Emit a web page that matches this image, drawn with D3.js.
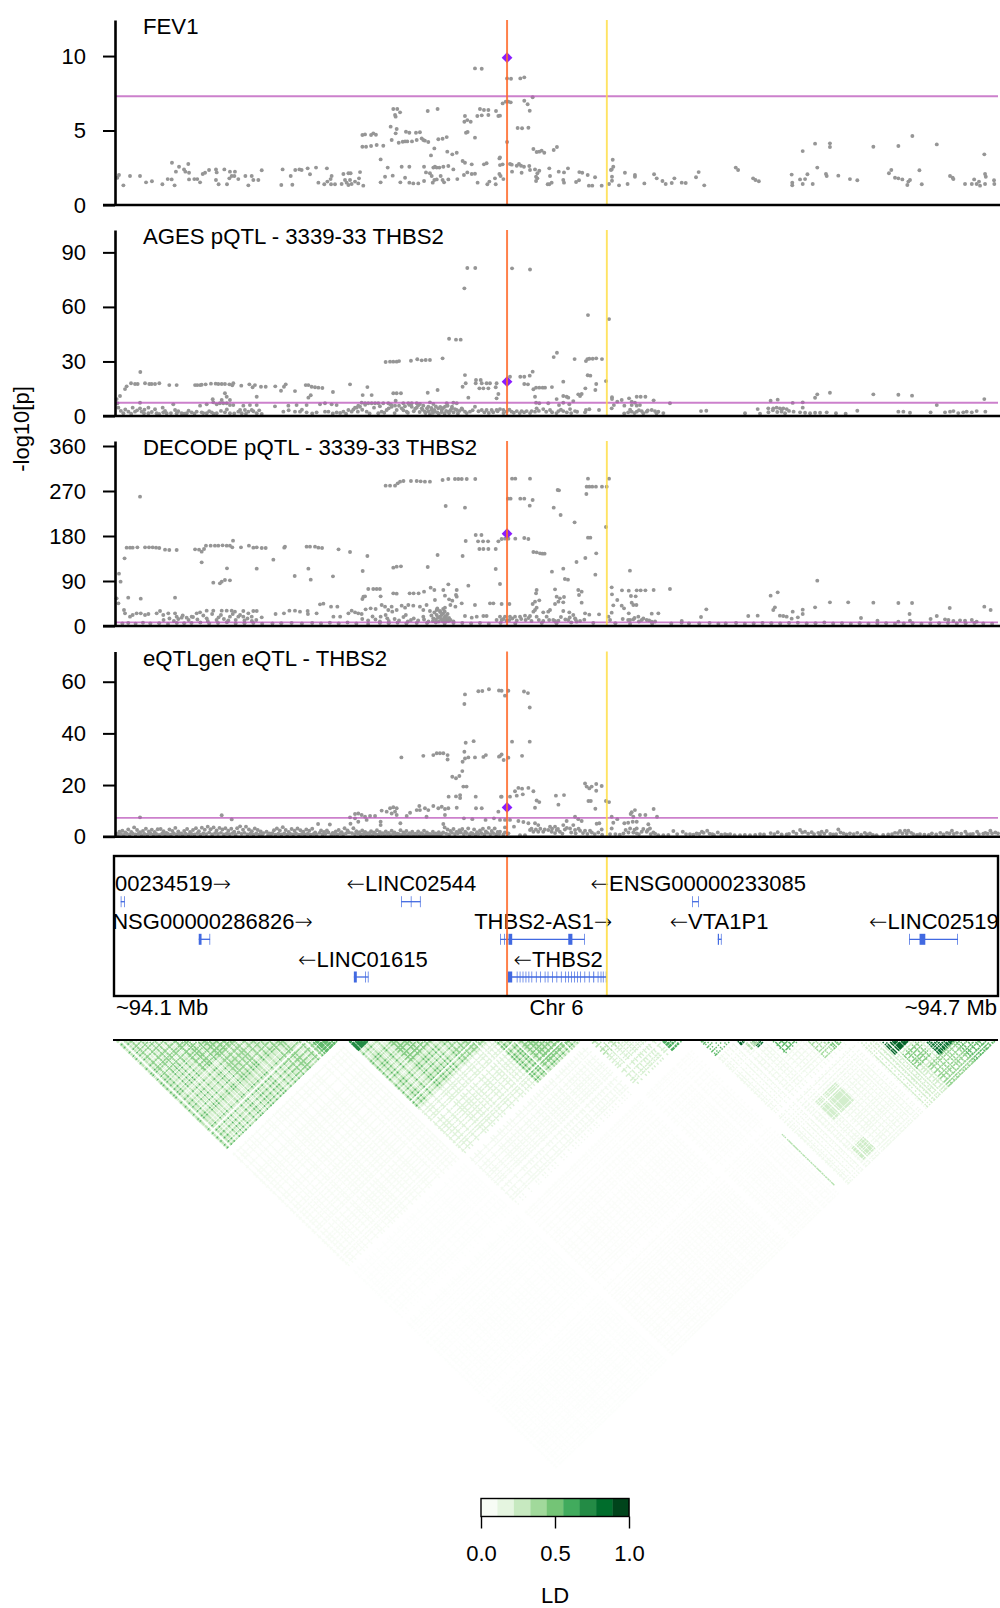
<!DOCTYPE html>
<html>
<head>
<meta charset="utf-8">
<script src="https://cdnjs.cloudflare.com/ajax/libs/d3/7.8.5/d3.min.js"></script>
<style>
  html, body { margin: 0; padding: 0; background: #fff; }
  svg { display: block; }
  text { font-family: "Liberation Sans", Arial, sans-serif; font-size: 22px; fill: #000; }
</style>
</head>
<body>
<svg id="chart" width="1000" height="1608"></svg>
<script>
// positions are kb from the left edge of the window (~94.1 Mb), values are -log10[p]
const studies = ["FEV1", "AGES pQTL - 3339-33 THBS2", "DECODE pQTL - 3339-33 THBS2", "eQTLgen eQTL - THBS2"];
const yTicks = [[0, 5, 10], [0, 30, 60, 90], [0, 90, 180, 270, 360], [0, 20, 40, 60]];
const yMax = [12.42, 102.3, 370, 71.7];
const threshold = 7.3;
const leadPos = 266.4;
const secondPos = 334.2;
const leadValues = [9.89, 18.9, 184.7, 11.35];
const regionKb = 600;

const fev1Points = [[1.6,1.83],[2.7,2.01],[5.7,1.32],[10.2,1.95],[17,1.95],[21.1,1.52],[25.1,1.59],[32.2,1.39],[35.8,1.74],[38.5,1.72],[40.5,1.32],[38.7,2.84],[41.4,2.24],[43.5,2.57],[46.9,2.39],[47.8,2.24],[49.8,2.75],[50.3,2.17],[50.3,1.72],[53.9,1.74],[55.9,1.74],[57.8,1.52],[59.6,2.08],[61.2,2.17],[63.9,2.35],[68.6,2.39],[69.1,2.19],[68.6,1.68],[70.4,1.39],[74.3,2.39],[76.1,1.39],[77.7,1.79],[78.1,2.24],[79.3,1.95],[81.5,2.24],[81.1,1.95],[83.8,1.74],[88.6,1.95],[90.6,1.32],[92.9,1.95],[94,1.68],[97.4,1.68],[99.7,2.33],[113,1.34],[113.9,2.39],[119.4,1.95],[120.5,1.36],[122.5,2.35],[125.3,2.39],[126.8,2.35],[130.9,2.46],[132.5,2.06],[136.6,2.51],[138.2,1.5],[144,2.46],[142.2,1.39],[144.3,1.57],[146.5,1.74],[147.2,1.95],[146.8,1.39],[149.5,1.39],[154,1.41],[155.2,2.08],[158.6,2.13],[160.1,2.13],[156.3,1.68],[157.4,1.5],[158.6,1.34],[159.7,1.68],[160.8,1.41],[163.1,1.57],[165.3,1.45],[165.8,1.79],[166.5,2.21],[168.7,1.3],
[168.1,3.91],[170.6,3.91],[174,3.96],[177.8,4.03],[182.3,3.98],[168.1,4.7],[169.9,4.74],[174,4.7],[175.5,4.81],[177.3,4.72],[180.5,3.06],[180.5,1.52],[183.5,1.9],[185.3,2.51],[187.3,5.26],[188,4.36],[188.7,1.97],[190.7,4.81],[191.4,5.1],[192.8,4.18],[193.9,1.52],[194.8,2.57],[195.5,4.25],[197.1,4.27],[197.1,1.83],[198.6,4.27],[200,1.5],[200,2.57],[197.7,4.92],[200,4.85],[201.8,4.27],[202.7,1.45],[204.5,4.85],[206.1,1.45],[205,4.36],[207.2,4.88],[208.4,4.47],[210,2.57],[210,1.61],[209.5,4.36],[210.6,4.32],[212.9,4.23],[212.5,6.31],[219.2,6.44],[214.7,3.33],[217,3.8],[217.4,2.57],[219.7,4.41],[222.6,4.45],[225.4,4.56],[225.8,3.58],[229.2,3.4],[232.2,3.51],[211.3,2.19],[214,2.13],[215.2,1.95],[215.9,1.5],[217,1.68],[218.6,1.72],[216.3,2.51],[218.6,2.51],[220.4,2.51],[223.1,2.57],[226.5,2.62],[229.9,2.39],[221.3,1.95],[222.6,1.68],[223.6,1.52],[226.5,1.72],[232.6,1.74],[237.1,2.01],[239.4,2.19],[242.4,2.08],[244.6,2.1],[236.2,2.95],[237.8,2.84],[242.4,2.73],[250.7,2.73],[252.5,2.8],[238.5,4.85],[239.6,4.9],[244.6,4.52],[189.1,6.44],[191.8,6.44],[193.7,6.22],[190.3,6.04],[190.7,5.93],[237.8,5.97],[237.4,5.59],[239.4,5.7],[241.7,5.59],[246.2,5.97],[248,6.44],[249.2,6.02],[250.7,6.38],[253.7,6.38],[253.7,6.04],[258.9,6.31],[260.5,5.97],[244.6,9.17],[249.2,9.15],[246.4,1.5],[253,1.39],[254.4,1.57],[258.2,1.79],[258.7,1.39],[261.2,3.13],[261.2,2.08],[261.6,2.68],
[266.4,8.5],[269.1,8.48],[275.4,8.5],[278.1,8.57],[263.4,6.82],[265.5,6.94],[267.3,6.94],[268.9,6.89],[278.1,7],[280.4,6.76],[281.8,6.33],[283.8,7.23],[261.6,6],[273.6,5.17],[276.6,5.15],[280.9,5.19],[266.4,4.23],[284.3,3.76],[286.5,3.56],[288.3,3.58],[289.9,3.65],[291.7,3.51],[298.1,3.69],[300.3,3.89],[261.6,3.2],[338.2,3.04],[263.4,2.73],[268.4,2.75],[269.6,2.71],[273,2.64],[274.5,2.75],[275.9,2.64],[277.9,2.57],[281.5,2.62],[282,2.35],[285.4,2.39],[288.3,2.3],[287,2.13],[286.1,1.9],[287,1.79],[286.1,1.61],[269.8,2.24],[276.3,2.17],[295.1,2.46],[295.6,1.95],[301.5,2.24],[305.1,2.19],[307.8,2.46],[315.5,2.21],[317.5,2.17],[321.2,2.01],[326.2,1.86],[353.3,2.01],[353.3,1.9],[346.5,2.17],[338.6,2.57],[337.5,2.39],[337,2.35],[337.7,1.9],[337.7,1.63],[335.7,1.41],[262,1.95],[263.9,1.74],
[295.1,1.39],[296.7,1.5],[294,1.39],[304.6,1.68],[305.1,1.5],[313.3,1.54],[315.3,1.66],[322,1.3],[324.3,1.3],[330.7,1.3],[342.5,1.32],[348.3,1.41],[359.7,1.45],[366.3,2.06],[368.1,1.79],[372,1.61],[374.2,1.41],[378.3,1.48],[380.1,1.79],[385.1,1.5],[387.8,1.48],[394.8,1.86],[396.6,2.21],[400.4,1.32],[421.8,2.51],[423.4,2.35],[433.6,1.79],[435.2,1.68],[437.5,1.59],
[459.8,2.04],[460.2,1.5],[460.2,1.32],[465.5,1.72],[467.3,3.62],[468.9,1.74],[467.3,1.41],[470.5,2.06],[474.1,1.41],[475.7,4.12],[477.2,2.51],[483.1,2.08],[483.6,1.95],[485.8,4.14],[485.8,3.89],[491.5,1.97],[499.4,1.74],[504.4,1.66],[515.3,3.91],[525.9,2.13],[527.5,2.35],[530,1.83],[532.3,1.79],[532.3,3.96],[535,1.72],[538.4,1.34],[539.1,1.57],[540.2,1.68],[541.8,4.63],[546.6,2.33],[548.2,1.39],[558.4,4.07],[567.4,1.95],[569.2,1.83],[569.7,1.74],[577.6,1.41],[582.2,1.41],[583.8,1.72],[585.5,1.41],[587.1,1.57],[587.8,1.3],[590.7,3.4],[591.2,1.41],[591.2,2.08],[591.7,1.9],[597.3,1.66],[597.5,1.41]];

const agesPoints = [[1.1,9.3],[3.4,11],[6.8,14.8],[7.9,16.3],[10.9,18],[13.6,17.6],[15.4,17.6],[17.2,24.2],[20.4,18],[23.3,17.6],[24.9,17.6],[27.2,17.6],[30.1,18],[36.9,17],[41.9,17],[54.4,17],[55.9,17],[57.8,17],[58.9,17.2],[61.6,17.4],[65.2,17.8],[68.4,17.8],[70.2,17.6],[72.5,17.6],[74.7,17.6],[77.7,17.4],[79.7,16.9],[80.4,18],[85.8,16.7],[91.3,17.4],[93.5,15.8],[95.1,17],[99.2,16.1],[102.4,16.1],[108.9,16.3],[112.8,13.9],[114.8,16.1],[116,17.4],[122.3,13.7],[129.6,17],[131.4,17],[133.6,16.1],[135.9,15.8],[138.2,15.6],[140.9,15.4],[148.1,13.2],[131.4,10.1],[133,11.4],[159.7,17.4],[168.3,11.5],[171.5,15.9],
[183.9,29.7],[186.9,29.9],[189.1,29.9],[191.4,29.9],[193,30.2],[201.1,30.4],[205.4,31.2],[208.4,30.6],[211.1,30.8],[214,30.8],[222.6,31.7],[227,42.5],[231.7,42],[234.9,42],[237.4,70.2],[239.4,81.4],[244.8,81.4],[237.8,22.5],[238.3,18],[236.2,16.1],[240.1,10.1],[245.3,19.8],[248.5,19.8],[249.2,18],[245.1,18],[252.5,18],[254.8,18],[259.3,18],[247.6,15.2],[250.3,15.2],[253.7,15.2],[258.7,15.8],[259.3,9.7],[260.5,12.1],[189.1,12.5],[191.4,12.5],[194.3,12.5],[212.5,12.8],[219.2,14.3],[190.7,8.4],[74.7,12.5],[75.9,10.6],[78.1,8.8],[66.4,9.2],[72.5,8.8],[96.3,10.6],[174.4,11.5],
[1.6,7],[17,7.3],[39.6,6.4],[57.8,5.7],[62.3,6.4],[66.8,7.5],[69.1,6.4],[71.3,7],[73.6,7],[75.9,7],[78.1,6],[80.4,6],[87.2,5.7],[91.7,6],[96.3,6],[108.7,5.3],[117.8,5.7],[123.4,6],[130.2,6],[139.3,6.4],[142.7,7],[147.2,6.4],[150.6,6],[163.1,4.6],[165.3,5.7],[167.6,7.3],[169.9,7],[172.1,7],[174.4,7],[176.7,7],[178.9,7],[182.3,7],[185.7,7],[188,6],[190.3,5.7],[195.9,7],[199.3,7],[201.6,7],[205,7],[207.2,6.6],[209.5,5.7],[214,7.5],[216.3,6.6],[225.4,7],[229.9,7.3],[232.2,7],
[2.3,4.6],[5.7,1.5],[9.1,2.4],[12,4.6],[13.6,2.4],[17,4.2],[18.1,2.4],[19.7,1.5],[22.7,4.6],[22.7,1.5],[27.2,3.7],[28.3,1.5],[32.4,4.6],[32.8,2],[35.1,1.5],[40.8,3.3],[41.9,1.5],[45.3,1.5],[48.7,1.5],[52.1,2],[55.5,2.4],[58.9,2],[62.3,1.5],[65.7,2],[69.1,1.5],[74.7,2],[78.1,1.5],[83.8,2.4],[86.1,1.5],[88.3,3.3],[90.6,2.4],[92.9,3.3],[96.3,1.5],[99.7,1.1],[114.4,2.4],[122.3,2.4],[125.7,2.4],[130.2,2],[137,2],[142.7,2.4],[145,2.4],[150.6,2],[155.2,2.4],[158.6,3.3],[160.8,2.4],[164.2,4.6],[166.5,5.1],[171,2.4],[178.9,1.5],[181.2,2.4],[184.6,3.3],[188,5.1],[191.4,3.3],[194.8,4.2],[198.2,2.4],[201.6,5.1],[205,4.6],[208.4,4.2],[210.6,2.4],[212.9,5.1],[215.2,3.3],[217.4,2.4],[219.7,4.2],[222,3.3],[224.2,5.1],[226.5,2.4],[228.8,4.2],[232.2,3.3],[235.6,4.2],[237.8,2.4],[241.2,2.4],[244.6,5.1],[249.2,3.3],[252.5,3.3],[255.9,3.3],[259.3,3.3],
[269.8,81.2],[282,80.6],[321.4,55.5],[335.7,53.3],[300.3,34.8],[298.1,32.4],[312.3,31.3],[320,30.2],[321,31.3],[322.3,31.5],[324.6,31.5],[327,31.7],[330.9,31.3],[268.4,21.6],[275.4,21.6],[278.1,21.6],[281.8,22.2],[283.8,24.4],[321.2,22.4],[323,22.2],[304.6,18.9],[333.6,19.2],[278.1,17.6],[280.6,17.4],[327,17.6],[284.3,14.7],[286.1,15.6],[288.3,15.6],[290.6,15.6],[292.2,15.6],[296.9,15.9],[319.6,15.2],[326.4,14.3],[285.4,10.6],[314.8,11.9],[317.1,12.1],[316,11],[300.1,9.3],[304.6,11],[306.9,10.6],[308,10.1],[337.7,10.3],[337.7,9.3],[341.3,7.9],[344.3,8.8],[349.3,9.7],[354.5,10.6],[357.2,10.6],[360.4,10.6],[366,8.6],[377.1,7],[286.1,7.3],[288.3,7],[294.4,7],[301.7,6],[304.6,7.3],[308.7,6.4],[311.4,8.2],[339,6],[346.1,5.7],[351.1,7.9],[353.3,7.3],[351.1,6],[354.5,5.7],[356.7,6],[337.5,4.2],[328.9,3.3],[322.3,3.7],[320,3.3],[319.4,2],[261.6,3.8],[263.9,3.3],[266.1,2.4],[269.5,2.4],[273,2.7],[276.3,2.7],[279.7,2.7],[283.1,2.7],[285.4,2.4],[286.5,4.2],[291,3.8],[295.6,3.3],[301.3,2.7],[304.6,2.7],[309.2,3.8],[312.6,2.7],[348.7,2],[351.1,2.4],[354.5,2.4],[357.9,2.7],[361.3,2.4],[364.7,3.3],[366.9,2.7],[369.2,2.4],[372.6,1.6],[398.2,2.7],[401.8,2.9],[428.1,1.5],[436.7,3.8],[438.3,1.3],[445.5,8.4],[450.3,9],[443.9,4.2],[447.3,4.2],[449.6,4.6],[451.8,4.2],[454.1,4.2],[456.4,3.8],[452.9,2.4],[455.3,1.5],[460.5,7.2],[467.3,7.5],[467.3,4.6],[461.1,2.4],[465.5,2],[468.9,1.8],[472.3,1.5],[475.7,1.8],[479.1,1.8],[483.6,2],[489.9,1.5],[496.5,1.3],[504.4,2.9],[475.7,10],[477.2,11.9],[485.8,12.8],[515.3,11.9],[532.3,11.7],[541.6,11.2],[558.4,6],[590.7,9.3],[532.3,2.4],[535.7,2.4],[540.2,1.8],[554.2,2],[564,2],[567.4,2.4],[569.7,2.7],[573,1.6],[576.4,2],[578.7,2.4],[582.2,2],[585.5,2.7],[591.4,2.4]];

// the crowded low part of the AGES panel
const agesBandPoints = [[4,2.8],[7,3.6],[11,1.2],[15,3.1],[20,3.4],[25,2.2],[30,1.1],[34,2.8],[38,1.6],[43,2.6],[47,1.2],[50,2.9],[54,1.2],[60,1.6],[64,2.6],[67,1.2],[72,2.8],[76,3.6],[81,1.4],[85,3.3],[89,1.2],[94,2.6],[98,3.1],[118,3.2],[127,3.4],[134,1.4],[148,1.4],[153,1.7],[157,1.2],[162,3.6],[165,2.4],[168,3.4],[170,6.2],[173,1.4],[176,4.6],[180,5.4],[183,1.8],[186,4.2],[187,6.4],[190,1.6],[193,5.6],[196,3.2],[197,5.4],[199,1.8],[200,6.1],[203,2.6],[204,4],[206,5.8],[207,2.2],[209,3.4],[211,1.6],[212,4.2],[213,2.6],[214,1.1],[215,4.4],[216,1.8],[217,3.3],[218,5.2],[219,2],[220,1.2],[221,5],[222,2.2],[223,4.4],[224,1.4],[225,2.8],[226,5.6],[227,1.6],[228,3.2],[229,5.1],[230,2],[231,3.8],[233,1.4],[234,2.8],[236,3.6],[239,1.6],[243,3.2],[247,2.6],[251,2],[254,1.7],[257,2.1],[260,2.6],[264,1.6],[268,3.4],[271,1.8],[275,1.6],[278,2],[282,1.6],[288,2.8],[293,2.3],[297,2.1],[300,1.6],[303,3.4],[307,2],[310,1.6],[314,2.3],[346,1.4],[350,3.4],[353,1.6],[356,3.2],[359,1.5],[362,3],[368,1.5],[444,2.1],[447,3.2],[450,2.2],[453,3.4],[458,2.8]];

const decodePoints = [[2.7,104.7],[3.8,88.7],[6.5,135.3],[1.1,55.3],[2.3,45.3],[9,56.7],[17.5,54.7],[40.8,56.7],[17,258.7],[7.9,156.7],[10.2,156.7],[12,156.7],[15.2,157.3],[20.4,157.3],[23.1,157.3],[25.6,157.3],[27.9,156.7],[30.1,156],[34,152.7],[36.9,152],[41.9,152],[54.4,153.3],[57.1,152.7],[58.9,148.7],[60.5,154],[58.9,127.3],[61.8,160.7],[65,160.7],[67.9,160.7],[70.2,160.7],[73.1,161.3],[75.9,160.7],[78.1,160.7],[79.7,157.3],[80.2,170.7],[85.6,157.3],[91,160.7],[94,156.7],[96.3,157.3],[99.7,156],[102.4,156],[107.6,132.7],[115,156.7],[115.5,158.7],[130.2,158.7],[132.5,158.7],[135.9,158.7],[138.2,156.7],[140.7,156],[151.9,153.3],[159.7,148],[171.5,140],[168.3,110],[66.8,86.7],[71.3,85.3],[72.5,88.7],[74.7,92],[78.1,91.3],[76.1,115.3],[96.3,114.7],[122.1,100],[131.4,114.7],[133,92.7],[148.1,99.3],[189.1,116.7],[191.4,118.7],[194.3,119.3],[212.5,118],[219.2,142],[224.7,240],[237.8,236.7],[236.2,140],[238.3,170],[240.1,80.7],
[183.9,280.7],[186.9,280.7],[190.3,280.7],[192.1,285.3],[193.7,288.7],[196,290],[201.1,290],[205,290],[207.7,289.3],[210.6,288.7],[214,288.7],[222.6,292],[226.5,294],[231,294],[233.3,294],[235.6,294],[239,294],[244.8,294],[245.1,182],[249,182],[246.7,169.3],[250.1,169.3],[253.5,169.3],[260.5,169.3],[247.6,154],[250.3,154],[253.7,154],[258.7,154],[258.7,114],[261.6,84],
[168.1,54],[168.8,58.7],[169.9,59.3],[172.1,74],[175.5,74],[177.8,74],[180,74],[180.5,59.3],[189.1,65.3],[191.4,64.7],[200.2,65.3],[202.9,65.3],[206.3,65.3],[210,68.7],[214.5,76.7],[217,72],[217.4,52],[223.1,72],[224.2,60.7],[226.5,83.3],[231.7,62],[232.2,72],[232.2,58.7],[227,53.3],[229.2,50.7],[235.6,45.3],[244.6,42],[254.8,45.3],[257.1,45.3],
[6.1,32],[6.8,25.3],[10.2,18.7],[12,22],[14.7,25.3],[17.5,25.3],[20.4,22],[22.7,24],[28.3,25.3],[30.6,30],[32.8,22],[36.2,25.3],[40.8,25.3],[41.9,18.7],[45.3,16.7],[48.7,16.7],[52.1,18.7],[55.5,25.3],[57.8,27.3],[62.3,30.7],[66.8,30.7],[72.5,30.7],[75.9,30.7],[79.3,30.7],[81.5,28.7],[87.2,30],[90.6,25.3],[94,30],[96.3,30],[92.9,18.7],[87.2,18.7],[83.8,18.7],[78.1,18.7],[70.4,17.3],[62.3,15.3],[99.7,17.3],[109.1,24],[114.8,25.3],[118.5,30.7],[122.3,30.7],[125.7,28.7],[130.9,30],[131.1,24],[137,25.3],[139.3,43.3],[141.6,44.7],[146.8,38.7],[151.1,38.7],[153,18.7],[148.4,18.7],[158.6,25.3],[160.8,30.7],[163.1,27.3],[165.3,25.3],[167.6,24],[170.3,33.3],[173.7,35.3],[177.1,34],[181.2,42],[183.5,38.7],[185.7,32],[188,38.7],[191.4,32],[194.8,40.7],[197.1,36.7],[199.3,42],[202.7,40.7],[207.2,38.7],[211.7,42],[209.5,32],[214,30],[218.6,32],[220.8,30],[224.2,36.7],[227.9,42],[231.3,38.7],[180.5,18.7],[183.9,22],[185,15.3],[188.4,28.7],[197.6,22],[201.1,12],[209.5,18.7],[216.3,15.3],[218.6,22],[220.8,18.7],[223.1,25.3],[224.2,18.7],[225.4,12],[237.8,20],[242.4,16.7],[245.8,18.7],[250.3,20],[252.5,20],[259.3,12],
[269.8,294.7],[272,294.7],[282,294.7],[321.4,294.7],[335.7,294.7],[300.8,272],[301.7,271.3],[320.5,278.7],[322.3,278.7],[324.3,278.7],[326.8,278.7],[330.9,278.7],[334.1,278.7],[320.3,264],[267,254.7],[268.8,254.7],[275.4,254.7],[278.1,254.7],[283.8,252],[281.8,240.7],[298.1,236.7],[302.8,222],[312.3,207.3],[333.6,198],[272,174.7],[262.7,174],[265,174.7],[267.3,174.7],[278.1,176],[280.9,174],[321.4,176.7],[323,176.7],[284.3,148],[286.5,147.3],[288.8,145.3],[290.4,144.7],[291.9,144.7],[327,145.3],[319.6,136],[313.6,128],[296.9,108.7],[304.6,114.7],[326.4,102.7],[349.9,110.7],[305.7,94],[307.8,92.7],[337.5,77.3],[477.2,90.7],[344.5,71.3],[349.1,70.7],[354.5,71.3],[357.2,71.3],[360.4,71.3],[366,72],[377.1,74],[299,73.3],[286.5,72],[286.1,65.3],[314.8,72],[317.1,68.7],[315.3,62],[450.3,67.3],[445.5,60.7],[350.6,60],[353.8,59.3],[337.7,63.3],[341.3,52],[300.1,58.7],[302.3,55.3],[305.1,58],[301.3,48.7],[299,44],[304.6,47.3],[285.4,48.7],[288.3,51.3],[283.8,44],[317.1,46.7],[338.6,41.3],[344.3,40.7],[345.9,35.3],[351.1,46.7],[352.2,42],[354.3,42],[262.7,44],[268,44],[475.7,37.3],[485.8,47.3],[498.2,47.3],[515.3,46.7],[532.3,46],[541.6,46],[567.2,36],[590.7,38.7],[595,32],[401.8,33.3],[398.2,18],[430.3,20],[436.7,20.7],[448.4,37.3],[447.3,32],[460.5,28.7],[467.3,32.7],[467.3,24],[451.8,20.7],[454.1,20],[456.4,18.7],[459.8,14.7],[464,17.3],[506.9,16],[539.9,24],[558.4,20],[554.2,14],[369.2,25.3],[364.7,24.7],[349.1,25.3],[337.5,26.7],[335.3,18.7],[328.9,23.3],[322.3,22.7],[319.4,25.3],[318.9,12.7],[311.4,22],[308.7,27.3],[304.6,30],[295.6,32],[294.4,28.7],[286.5,36.7],[285.4,32],[284.3,28.7],[291,27.3],[293.3,18.7],[286.5,18.7],[282,20],[278.6,20.7],[275.2,18.7],[271.8,18.7],[268.4,18.7],[265,18.7],[261.6,18.7],[262.7,12],[266.1,10.7],[297.8,12],[301.3,10.7],[308,12],[312.6,15.3],[313.7,8.7],[336.4,12],[348.7,12],[352.2,13.3],[355.6,18.7],[357.9,12],[361.3,12],[364.7,8.7],[385.1,10],[518.1,10.7],[532.3,8.7],[540.2,10.7],[564,13.3],[566.3,12],[569.7,10],[574.2,11.3],[577.6,10.7],[582.2,12],[585.5,8.7],
[5,5],[9,6],[14,4.5],[19,6.5],[24,5],[30,5.5],[36,4],[42,6],[47,5.5],[52,6],[58,7],[64,5],[70,6],[76,7.5],[82,5],[88,5.5],[94,6],[100,4.5],[107,5],[113,5.5],[120,6],[127,5],[134,6],[140,5],[146,6.5],[152,5],[158,7],[164,5],[172,4],[180,6],[186,5.5],[192,6.5],[198,5],[205,6],[212,6],[218,7],[224,5],[230,6],[236,6],[242,5],[248,6],[254,4.5],[262,6],[272,5],[290,6],[300,5.5],[310,7],[325,6],[340,5.5],[350,4],[365,5],[378,5],[385,6.5],[390,5],[397,5],[404,6],[410,4.5],[415,5],[422,6],[428,4.5],[434,5],[440,6],[446,5.5],[452,5],[458,6],[464,6.5],[470,5],[476,5.5],[482,7],[488,5],[494,5.5],[500,4.5],[506,5.5],[512,4.5],[518,5],[524,5.5],[530,4.5],[536,5],[542,5.5],[548,4.5],[554,5],[560,5.5],[566,6],[572,5],[578,5.5],[584,6],[590,5],[596,4.5]];

// crowded low part of the DECODE panel
const decodeBandPoints = [[33,12],[37,15],[40,10],[43,14],[46,21],[50,12],[53,18],[56,13],[60,21],[63,10],[66,24],[69,12],[72,22],[74,14],[77,11],[80,24],[82,12],[85,22],[88,11],[90,15],[93,10],[96,12],[168,14],[172,11],[175,19],[177,13],[180,9],[186,10],[190,14],[193,11],[196,18],[199,9],[203,15],[206,11],[210,13],[213,9],[215,21],[216,10],[217,27],[218,13],[219,35],[219.5,17],[220,9],[221,28],[221.5,14],[222,22],[222.5,10],[223,34],[223.5,15],[224,29],[224.5,9],[225,20],[225.5,14],[226,24],[226.5,10],[227,16],[228,12],[230,9],[264,14],[268,12],[270,15],[273,11],[276,14],[279,12],[281,16],[283,10],[288,12],[291,10],[295,12],[299,10],[303,18],[306,13],[309,17],[313,13],[316,10],[345,14],[350,12],[353,16],[356,9],[359,15],[363,11],[367,9]];

const eqtlPoints = [[237.8,55.1],[237.4,51.4],[246.9,56.3],[249.6,56.4],[254.1,57.1],[260.9,56.6],[238.3,36.4],[243.7,37],[194.6,30.7],[209.5,31.3],[216.3,31.6],[218.6,32.3],[220.8,32.3],[223.1,32.3],[226,31.6],[226,29.9],[237.4,32.9],[237.8,30.3],[236.2,29],[240.1,30.7],[244.6,30.7],[250.3,30.9],[252,31.6],[260.9,31],[236,25.4],[229.2,23.2],[231.7,22.6],[234,23.5],[236.7,19.4],[238.9,19.4],[226.7,15.5],[231.7,15.6],[234.5,16.1],[234.5,15],[245.1,15.5],[262.3,15.5],
[17,7.5],[72.5,8.3],[79.3,6.7],[159.7,7.5],[163.1,8.8],[165.3,9],[167.6,8.4],[169.9,7.7],[173.3,8],[176.7,8],[163.1,7.1],[165.3,5.8],[171,6.5],[181.2,10.1],[184.6,9.7],[186.9,11],[189.1,11.4],[191.4,11],[190.3,9.7],[188,9],[191.4,8.4],[198.2,8],[200.5,9.3],[206.8,11.9],[205,10.3],[207.2,10.3],[210.6,11],[212.9,10.3],[211.7,7.7],[216.3,11.9],[219.7,11],[222,11.6],[224.2,10.7],[226.5,11],[224.2,8.4],[232.2,11.2],[245.3,11],[249.2,11],[260.5,9.7],[237.1,7.1],[242.8,6.8],[251.8,6.5],[257.5,7.1],[180.5,5.8],[180.5,4.5],[193.9,5.2],[223.1,4.9],
[1,1.2],[3,1.9],[5,2.3],[7,1.6],[9,2.8],[11,1.8],[13,3.6],[15,2.6],[17,1.7],[19,2.2],[21,3.1],[23,2],[25,2.7],[27,1.8],[29,2.9],[31,3],[33,2.1],[35,1.5],[37,2.8],[39,2.2],[41,3.4],[43,2],[45,1.3],[47,2.2],[49,3],[51,1.8],[53,2.6],[55,3.3],[57,2.1],[59,3.5],[61,2.7],[63,3.9],[65,2.9],[67,3.6],[69,2.4],[71,3.4],[73,2.8],[75,3.3],[77,2.3],[79,3.1],[81,1.9],[83,3.3],[85,4],[87,2.7],[89,3.9],[91,2.8],[93,2.1],[95,3.2],[97,2.6],[99,2],[101,1.4],[103,1.9],[105,1.3],[108,2.5],[110,3.2],[112,2.4],[114,3.7],[116,2.6],[118,1.8],[120,3],[122,2.3],[124,3.2],[126,2.5],[128,1.9],[130,2.8],[132,2.3],[134,3.1],[136,1.6],[138,4.9],[140,2.4],[142,1.8],[144,2.4],[146,4.7],[148,1.5],[150,2],[152,2.6],[154,1.7],[156,3.3],[158,2.4],[160,5],[162,3.3],[164,2.1],[166,1.7],[168,2.4],[170,1.8],[172,1.4],[174,2.1],[176,1.6],[178,2.5],[180,1.8],[182,1.4],[184,2],[186,1.5],[188,2.3],[190,1.6],[192,1.2],[194,2.5],[196,1.6],[198,2.2],[200,1.4],[202,1.9],[204,1.2],[206,2],[208,1.4],[210,2.3],[212,1.6],[214,1.1],[216,1.9],[218,1.3],[220,1.7],[222,1.1],[224,3.6],[226,2.8],[228,2.2],[230,3],[232,1.8],[234,2.5],[236,3],[238,1.9],[240,3.2],[242,1.5],[244,2.8],[246,1.7],[248,2.4],[250,3.1],[252,2],[254,3.4],[256,2.2],[258,3.2],[260,1.8],
[262.7,56.5],[265,54.6],[267.3,56.5],[277.9,56.2],[280.6,55.6],[281.8,50],[269.8,36.8],[281.8,36.8],[262.7,31.8],[261.6,31.2],[264.1,29.7],[267.3,30.6],[276.6,31.3],[319.4,20.6],[320.5,19.4],[322.3,18.7],[323.9,19.4],[327,20.4],[330.7,19.6],[327,17.8],[271.8,17.6],[274.1,18.9],[276.6,18.6],[280.9,18.9],[284.3,17.6],[262.7,15.5],[268.4,15.5],[273,15.9],[277.1,16.4],[299.6,15.9],[305.1,16.1],[286.5,14],[288.3,13.4],[301.3,12.4],[321.7,13.8],[323.3,13.8],[333.6,13.8],[335.7,13.4],[285.4,11.2],[326.4,10.8],[366,10.7],[353.3,10.3],[351.1,9.5],[350.4,8.8],[352.2,7.7],[356.7,8.4],[360.4,8.4],[368.3,7.7],[337.5,7.7],[341.3,6.8],[312.6,7.7],[314.8,6.8],[317.1,6.1],[306.9,6.1],[261.6,6.5],[265,6.5],[268.4,6.5],[274.1,6.1],[277.5,5.7],[280.9,5.2],[285.4,5.2],[287.6,4.5],[338.6,5.4],[346.1,5.2],[348.7,5.4],[351.8,5.8],[354.5,5.8],[327.3,5],[329.1,5.2],[311.4,4.5],[304.6,4.5],[295.6,3.9],[299,3.9],[362.4,4.8],[354.5,3.2],[265,3.6],[271.1,3.9],[330.7,2.8],[337.5,3.2],[363.5,3.2],
[282,2.6],[284.3,1.9],[287.6,1.9],[291,1.9],[294.4,2.6],[296.7,1.9],[300.1,2.6],[302.3,1.9],[305.7,2.8],[309.2,3.2],[312.6,2.6],[316,2.3],[319.4,2.3],[322.8,2.3],[261.6,1.9],[265,1.6],[263.9,.9],[267.3,1.3],[275.2,.6],[278.6,.6],[328.4,1.6],[336.4,1],[345.5,1.3],[348.9,1.6],[352.2,1.6],[354.5,1.3],[357.9,1.9],[361.3,1.9],[365.8,1.6],[369.2,.6],[372.6,.6],[379.4,2.2],[385.8,1.9],[390.7,1],[395.2,1.3],[398.8,1.9],[402.4,2.3],[405.9,1],[409.6,1.6],[414.5,1],[418,1],[424.7,.6],[431.5,.6],[438.3,1],[445.5,1.4],[450.3,1.7],[456.4,.9],[460.9,1.9],[465.5,2.6],[468.9,1.9],[473.4,1.7],[477.9,1.5],[480.2,1.9],[483.6,2.2],[488.1,.9],[491.5,2.8],[495,1.3],[499.4,1.3],[504.4,1.5],[509.5,1.5],[513,1.3],[517.5,.6],[525.4,.9],[530,1.5],[533.4,2.2],[536.8,2.3],[539.1,2.3],[542.5,1],[547,1],[555.1,1.3],[560.8,1.5],[565.3,1.5],[568.7,2.3],[572.1,1.5],[577.8,1.9],[581.2,1],[585.8,1.9],[591.4,1.5],[594.8,2.3],[598.2,1.6],[600,1.3]];

// crowded low part of the eQTLgen panel
const eqtlBandPoints = [[2,.8],[4,1.1],[6,.7],[8,1.2],[10,.8],[12,1.3],[14,.9],[16,1.2],[18,.7],[20,1.1],[22,.8],[24,1.3],[26,.9],[28,1.1],[30,.7],[32,1.2],[34,.9],[36,1.1],[38,.8],[40,1.3],[42,.9],[44,1.1],[46,.7],[48,1.2],[50,.8],[52,1.1],[54,.9],[56,1.4],[58,.8],[60,1.3],[62,1],[64,1.6],[66,.9],[68,1.4],[70,1.1],[72,1.5],[74,.9],[76,1.3],[78,1],[80,1.4],[82,.8],[84,1.6],[86,1.1],[88,1.5],[90,.9],[92,1.2],[94,.8],[96,1.3],[98,.9],[100,.8],[104,.7],[106,.9],[107,1.4],[109,.8],[111,1.2],[113,.9],[115,1.3],[117,.8],[119,1.2],[121,.9],[123,1.3],[125,.8],[127,1.1],[129,.9],[131,1.2],[133,.8],[135,1.1],[137,.8],[139,1.5],[141,.9],[143,1.1],[145,1.6],[147,.8],[149,1],[151,.8],[153,1.2],[155,.9],[157,1.3],[159,1.6],[161,1.4],[163,1],[165,1.3],[167,.9],[169,1.1],[171,.7],[173,1],[175,.7],[177,1.1],[179,.8],[181,1],[183,.7],[185,1],[187,.7],[189,1.1],[191,.7],[193,1],[195,.7],[197,1],[199,.7],[201,1],[203,.7],[205,1],[207,.7],[209,1],[211,.7],[213,.9],[215,.7],[217,.9],[219,.7],[221,.9],[223,1.6],[225,1.2],[227,.9],[229,1.5],[231,1],[233,1.3],[235,1.6],[237,1],[239,1.4],[241,.8],[243,1.2],[245,.8],[247,1.1],[249,1.4],[251,.9],[253,1.5],[255,1],[257,1.4],[259,.9],[261,1.1],
[283,3.1],[286,2.8],[289,3.1],[292,2.8],[297,3.1],[299,1.4],[301,3],[304,1.2],[307,3.4],[310,1.6],[313,1.3],[315,3.1],[318,1.4],[321,1.1],[324,1.6],[326,1],[331,.8],[340,1],[343,.8],[347,2.6],[350,3.2],[353,2.7],[356,1],[359,3],[362,2.6],[364,1],[367,1.2],[376,.7],[382,1],[388,1],[393,.8],[397,1.1],[400,1.5],[404,1.2],[407,.7],[412,.8],[416,.7],[421,.6],[428,.7],[435,.7],[441,.9],[448,1],[453,.9],[458,1.1],[463,1.2],[467,1.6],[471,1.2],[475,1],[479,.9],[482,1.2],[486,1.1],[490,1],[493,1.6],[497,.9],[502,1],[507,.8],[511,.9],[515,.7],[522,.7],[528,1],[532,1.4],[535,1.3],[538,1.2],[541,1.5],[545,.7],[550,.8],[553,.7],[558,.9],[563,.9],[567,1.3],[570,1.1],[575,1.2],[579,1],[583,1.1],[587,1],[590,1.2],[593,1.2],[596,1.3]];

// genes: arrow, name, row, start, end, exons in kb
const geneNames = ["ENSG00000234519", "LINC02544", "ENSG00000233085", "ENSG00000286826", "THBS2-AS1", "VTA1P1", "LINC02519", "LINC01615", "THBS2"];
const geneForward = [true, false, false, true, true, false, false, false, false];
const geneLabelEnds = [79, 245.5, 469.5, 134.5, 338, 444, 600.5, 212.5, 331.5];
const geneRows = [0, 0, 0, 1, 1, 1, 1, 2, 2];
const geneSpans = [[3.9,6.6],[194.5,207.6],[392.2,396.6],[56.9,64.6],[261.8,319.1],[409.6,412.1],[539.7,572.8],[162.3,172.2],[267,333.9]];
const geneExons = [
  [[3.9,4.2],[6.2,6.6]],
  [[194.5,194.9],[201,201.4],[207.2,207.6]],
  [[392.2,392.6],[396.2,396.6]],
  [[56.9,58.8],[64.2,64.6]],
  [[261.8,262.2],[264.5,264.9],[266,266.4],[267.4,269.9],[308,310.8],[318.7,319.1]],
  [[409.6,410.4],[411.7,412.1]],
  [[539.7,540.2],[546.7,550.6],[572.3,572.8]],
  [[162.3,164.3],[170,170.4],[171.8,172.2]],
  [[267,269.9],[273,273.4],[275,275.4],[277,277.4],[279,279.4],[281,281.4],[283,283.4],[286,286.4],[289,289.4],[292,292.4],[294,294.4],[297,297.4],[300,300.4],[303,303.4],[306,306.4],[308,308.4],[310,310.4],[312,312.4],[314,314.4],[316,316.4],[319,319.4],[322,322.4],[325,325.6],[328,328.4],[330,330.4],[331.5,331.9],[333.5,333.9]]
];

// LD read off as blocks of SNP pairs: [first SNP from, to, second SNP from, to, r2, cover], faint ones first
// cover 0 = every pair, 1 = only pairs that hold a tag SNP (stripes), 2 = only pairs of tag SNPs (speckle)
const ldBlocks = [
  [0,153,323,600,.02,1],[158,316,398,600,.03,1],[323,387,398,600,.03,1],[0,153,158,316,.05,1],[158,316,323,390,.07,1],
  [158,316,158,316,.14,1],[323,387,323,387,.18,1],[398,600,398,600,.08,1],[505,600,505,600,.2,1],
  [0,153,0,153,.16,0],[0,153,0,153,.3,1],[0,153,0,153,.58,2],[158,253,158,253,.14,0],[158,253,158,253,.32,1],[158,253,158,253,.58,2],[257,316,257,316,.16,0],[257,316,257,316,.36,1],[257,316,257,316,.58,2],
  [10,60,10,60,.42,1],[60,110,60,110,.4,1],[100,150,100,150,.42,1],[40,80,40,80,.44,1],[134,153,134,153,.55,0],
  [159,173,159,173,.75,0],[185,215,185,215,.45,1],[225,250,225,250,.4,1],[275,310,275,310,.45,1],
  [323,345,323,345,.3,1],[371,385,371,385,.6,0],[398,419,398,419,.55,1],[423,428,423,428,.9,0],[433,441,433,441,.85,0],[427,438,427,438,.3,0],
  [447,465,447,465,.55,1],[470,494,470,494,.35,1],[484,494,484,494,.5,0],[505,520,505,520,.15,0],
  [520,539,520,539,.9,0],[550,570,550,570,.85,0],[525,545,545,565,.45,1],[570,600,570,600,.55,1],[535,570,570,600,.4,1],
  [434,460,518,544,.2,0],[425,441,575,591,.22,0],[388,390,518,590,.3,0],[391,393,423,445,.2,0]
];
const ldExtraSnps = [101,103,105,106,108,110,111,112,115,117,372,375,378,381,384,399,402,404,407,410,413,416,418,424,426,427,431,433,434,439,441,448,451,453,457,459,462,464,471,473,476,479,481,484,486,489,492,494,506,509,512,516,519,521,523,526,529,531,534,537,543,545,547,549,551,553,556,559,561,563,566,568,571,574,579,581,584,587,589,592,595,598];
const ldTagSnps = [2,7,11,18,23,27,33,38,41,47,50,56,61,64,69,74,78,81,88,94,99,105,111,114,120,125,131,137,142,147,151,158,160,166,170,175,178,183,188,191,197,200,205,210,214,218,222,226,232,238,242,246,250,254,259,262,267,270,276,281,284,288,292,296,301,305,308,313,317,322,326,331,337,341,346,349,353,357,360,366,372,378,381,387,393,399,402,407,413,418,423,428,433,437,441,448,453,457,462,467,471,476,481,486,489,494,506,512,516,519,523,526,531,534,539,543,547,551,556,559,563,568,571,574,579,584,587,592,595,598];

const legendDomain = [0, 1];
const legendTicks = [0, 0.5, 1];
const legendBins = [0, 1/9, 2/9, 3/9, 4/9, 5/9, 6/9, 7/9, 8/9];

// layout
const plotLeft = 115, plotRight = 998;
const panelTops = [20, 230, 441, 651.5];
const panelBottoms = [205, 416, 626, 836.7];
const geneBox = {top: 856, bottom: 996};
const geneRowY = [901.7, 939.3, 977];
const geneTextY = [890.7, 929, 966.7];
const ldTop = 1041;

const svg = d3.select("#chart");
const x = d3.scaleLinear().domain([0, regionKb]).range([plotLeft, plotRight]);

function drawPanel(i, points) {
    const y = d3.scaleLinear().domain([0, yMax[i]]).range([panelBottoms[i], panelTops[i]]);
    const g = svg.append("g");

    g.append("g").selectAll("circle")
        .data(points)
        .join("circle")
        .attr("cx", d => x(d[0]))
        .attr("cy", d => y(d[1]))
        .attr("r", 1.95)
        .attr("fill", "#969696");

    g.append("path")
        .attr("d", d3.symbol(d3.symbolSquare, 58)())
        .attr("transform", `translate(${x(leadPos)},${y(leadValues[i])}) rotate(45)`)
        .attr("fill", "#8a1cff");

    g.append("line")
        .attr("x1", x(0)).attr("x2", x(regionKb))
        .attr("y1", y(threshold)).attr("y2", y(threshold))
        .attr("stroke", "#bb55bb").attr("stroke-opacity", 0.75).attr("stroke-width", 1.9);

    g.append("line")
        .attr("x1", x(leadPos)).attr("x2", x(leadPos))
        .attr("y1", panelTops[i]).attr("y2", panelBottoms[i])
        .attr("stroke", "#ff6a2a").attr("stroke-opacity", 0.85).attr("stroke-width", 2);
    g.append("line")
        .attr("x1", x(secondPos)).attr("x2", x(secondPos))
        .attr("y1", panelTops[i]).attr("y2", panelBottoms[i])
        .attr("stroke", "#ffdc3c").attr("stroke-opacity", 0.8).attr("stroke-width", 1.9);

    const axis = g.append("g")
        .attr("transform", `translate(${plotLeft},0)`)
        .call(d3.axisLeft(y).tickValues(yTicks[i]).tickSize(12).tickSizeOuter(0).tickPadding(17));
    axis.select(".domain").attr("stroke-width", 2.6);
    axis.selectAll(".tick line").attr("stroke-width", 2);
    axis.selectAll("text").style("font-size", "22px").attr("font-family", null);

    g.append("line")
        .attr("x1", plotLeft - 12).attr("x2", 1000)
        .attr("y1", panelBottoms[i]).attr("y2", panelBottoms[i])
        .attr("stroke", "#000").attr("stroke-width", 2.6);

    g.append("text")
        .attr("x", 143)
        .attr("y", panelTops[i] + 14)
        .style("font-size", "22.2px")
        .text(studies[i]);
}

[fev1Points, agesPoints.concat(agesBandPoints), decodePoints.concat(decodeBandPoints), eqtlPoints.concat(eqtlBandPoints)]
    .forEach((points, i) => drawPanel(i, points));

svg.append("text")
    .attr("text-anchor", "middle")
    .attr("transform", "translate(29,429) rotate(-90)")
    .text("-log10[p]");

// gene track
svg.append("clipPath").attr("id", "geneClip").append("rect")
    .attr("x", plotLeft - 2).attr("y", geneBox.top)
    .attr("width", plotRight - plotLeft + 2).attr("height", geneBox.bottom - geneBox.top);

const genes = svg.append("g");
const arrowTspan = (sel, glyph) => sel.append("tspan")
    .attr("font-family", "DejaVu Sans")
    .style("font-family", "'DejaVu Sans'")
    .style("font-weight", "200")
    .text(glyph);

const labelLayer = genes.append("g").attr("clip-path", "url(#geneClip)");
geneNames.forEach((name, i) => {
    const label = labelLayer.append("text")
        .attr("text-anchor", "end")
        .attr("x", x(geneLabelEnds[i]))
        .attr("y", geneTextY[geneRows[i]]);
    if (!geneForward[i]) arrowTspan(label, "←");
    label.append("tspan").text(name);
    if (geneForward[i]) arrowTspan(label, "→");
});

geneSpans.forEach((span, i) => {
    const row = geneRowY[geneRows[i]];
    genes.append("line")
        .attr("x1", x(span[0])).attr("x2", x(span[1]))
        .attr("y1", row).attr("y2", row)
        .attr("stroke", "#4169e1").attr("stroke-width", 1.3);
    genes.append("g").selectAll("rect")
        .data(geneExons[i])
        .join("rect")
        .attr("x", d => x(d[0]))
        .attr("y", row - 5.5)
        .attr("width", d => Math.max(0.7, x(d[1]) - x(d[0])))
        .attr("height", 11)
        .attr("fill", "#4169e1");
});

[[leadPos, "#ff6a2a", 2], [secondPos, "#ffdc3c", 1.9]].forEach(v => {
    genes.append("line")
        .attr("x1", x(v[0])).attr("x2", x(v[0]))
        .attr("y1", geneBox.top).attr("y2", geneBox.bottom)
        .attr("stroke", v[1]).attr("stroke-opacity", 0.85).attr("stroke-width", v[2]);
});

genes.append("rect")
    .attr("x", plotLeft - 1).attr("y", geneBox.top)
    .attr("width", plotRight - plotLeft + 1).attr("height", geneBox.bottom - geneBox.top)
    .attr("fill", "none").attr("stroke", "#000").attr("stroke-width", 2.4);

genes.append("text").attr("x", 116).attr("y", 1015).text("~94.1 Mb");
genes.append("text").attr("x", 556.5).attr("y", 1015).attr("text-anchor", "middle").text("Chr 6");
genes.append("text").attr("x", 997).attr("y", 1015).attr("text-anchor", "end").text("~94.7 Mb");

// LD triangle, one path per block, drawn on the SNP positions we have
const ldColor = d3.scaleSequential(d3.interpolateGreens).domain(legendDomain);
const ldDepth = d3.scaleLinear().domain([0, regionKb]).range([0, 429]);
const ldSnps = Array.from(new Set(
    fev1Points.concat(agesPoints).map(d => Math.round(d[0])).concat(ldExtraSnps)
)).sort(d3.ascending);
const ldTags = new Set(ldTagSnps);
const halfCell = 1, halfCellY = 1;

const ldLayer = svg.append("g");
ldBlocks.forEach(b => {
    const firsts = ldSnps.filter(s => s >= b[0] && s <= b[1]);
    const seconds = ldSnps.filter(s => s >= b[2] && s <= b[3]);
    let d = "";
    firsts.forEach(s1 => {
        seconds.forEach(s2 => {
            if (s2 <= s1) return;
            const tagged = (ldTags.has(s1) ? 1 : 0) + (ldTags.has(s2) ? 1 : 0);
            if (b[5] === 1 && tagged < 1) return;
            if (b[5] === 2 && tagged < 2) return;
            const cx = Math.round((x(s1) + x(s2)) / 2 * 10) / 10;
            const cy = Math.round((ldTop + ldDepth(s2 - s1)) * 10) / 10;
            d += `M${cx} ${cy - halfCellY}l${halfCell} ${halfCellY}l${-halfCell} ${halfCellY}l${-halfCell} ${-halfCellY}z`;
        });
    });
    ldLayer.append("path")
        .attr("d", d)
        .attr("fill", ldColor(b[4]))
        .attr("fill-opacity", Math.min(1, 0.1 + b[4] * 8));
});

svg.append("line")
    .attr("x1", plotLeft - 2).attr("x2", plotRight)
    .attr("y1", 1040).attr("y2", 1040)
    .attr("stroke", "#000").attr("stroke-width", 2.2);

// colour legend
const legendX = d3.scaleLinear().domain(legendDomain).range([481, 629]);
const legend = svg.append("g");
legend.append("g").selectAll("rect")
    .data(legendBins)
    .join("rect")
    .attr("x", d => legendX(d))
    .attr("y", 1498.5)
    .attr("width", legendX(1 / 9) - legendX(0) + 0.3)
    .attr("height", 18)
    .attr("fill", d => d3.schemeGreens[9][legendBins.indexOf(d)]);
legend.append("rect")
    .attr("x", legendX(0)).attr("y", 1498.5)
    .attr("width", legendX(1) - legendX(0)).attr("height", 18)
    .attr("fill", "none").attr("stroke", "#000").attr("stroke-width", 1.4);
const legendAxis = legend.append("g")
    .attr("transform", "translate(0,1516.5)")
    .call(d3.axisBottom(legendX).tickValues(legendTicks).tickFormat(d3.format(".1f")).tickSize(12).tickSizeOuter(0).tickPadding(17));
legendAxis.select(".domain").remove();
legendAxis.selectAll(".tick line").attr("stroke-width", 1.4);
legendAxis.selectAll("text").style("font-size", "22px").attr("font-family", null);
legend.append("text").attr("x", 555).attr("y", 1603).attr("text-anchor", "middle").text("LD");
</script>
</body>
</html>
